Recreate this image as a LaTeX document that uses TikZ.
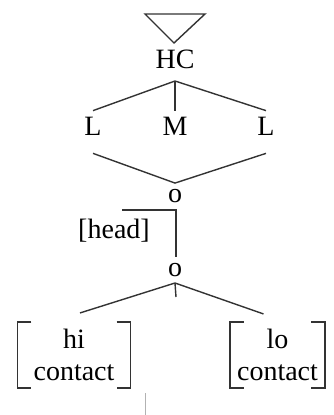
\documentclass[tikz,border=0pt]{standalone}
\usepackage{fontspec}
\setmainfont{Liberation Serif}
\usetikzlibrary{calc}
\tikzset{
  seg/.style={font=\fontsize{28}{32}\selectfont, inner sep=6pt, text=black},
  feat/.style={seg, align=center, inner ysep=7pt},
  branch/.style={black!80, line width=1.4pt}
}
\newcommand\featbrackets[1]{%
  \draw[branch] ([xshift=14pt]#1.north west) -| (#1.south west) -- ++(14,0);
  \draw[branch] ([xshift=-14pt]#1.north east) -| (#1.south east) -- ++(-14,0);}

\begin{document}
\begin{tikzpicture}[x=1pt,y=-1pt]
\useasboundingbox (0,0) rectangle (334,415);

\node[seg] (HC) at (175,59) {HC};
\draw[branch] (145,14) -- (205,14) -- (174,43) -- cycle;
\coordinate (HCfoot) at (175,81);

\node[seg] (L1) at (93,126) {L};
\node[seg] (M) at (175,126) {M};
\node[seg] (L2) at (266,126) {L};
\draw[branch] (L1.north) -- (HCfoot) -- (L2.north);
\draw[branch] (HCfoot) -- (M.north);

\node[seg] (o1) at (175,196) {o};
\draw[branch] ([yshift=-12pt]L1.south) -- (o1.north) -- ([yshift=-12pt]L2.south);

\node[seg] (head) at (114,231) {[head]};
\node[seg] (o2) at (175,270) {o};
\coordinate (headend) at (122,210);
\draw[branch] (headend) -| ([xshift=1pt]o2.north);

\coordinate (o2foot) at (175,283);
\draw[branch] (o2foot) -- ++(1,14);

\node[feat, inner xsep=16pt] (hi) at (74,355) {hi\\contact};
\node[feat, inner xsep=7pt] (lo) at (277.5,355) {lo\\contact};
\featbrackets{hi}
\featbrackets{lo}
\draw[branch] ([xshift=6pt,yshift=9pt]hi.north) -- (o2foot) -- ([xshift=-14pt,yshift=8pt]lo.north);

\draw[black!30, line width=0.8pt] (145,393) -- (145,415);

\end{tikzpicture}
\end{document}
